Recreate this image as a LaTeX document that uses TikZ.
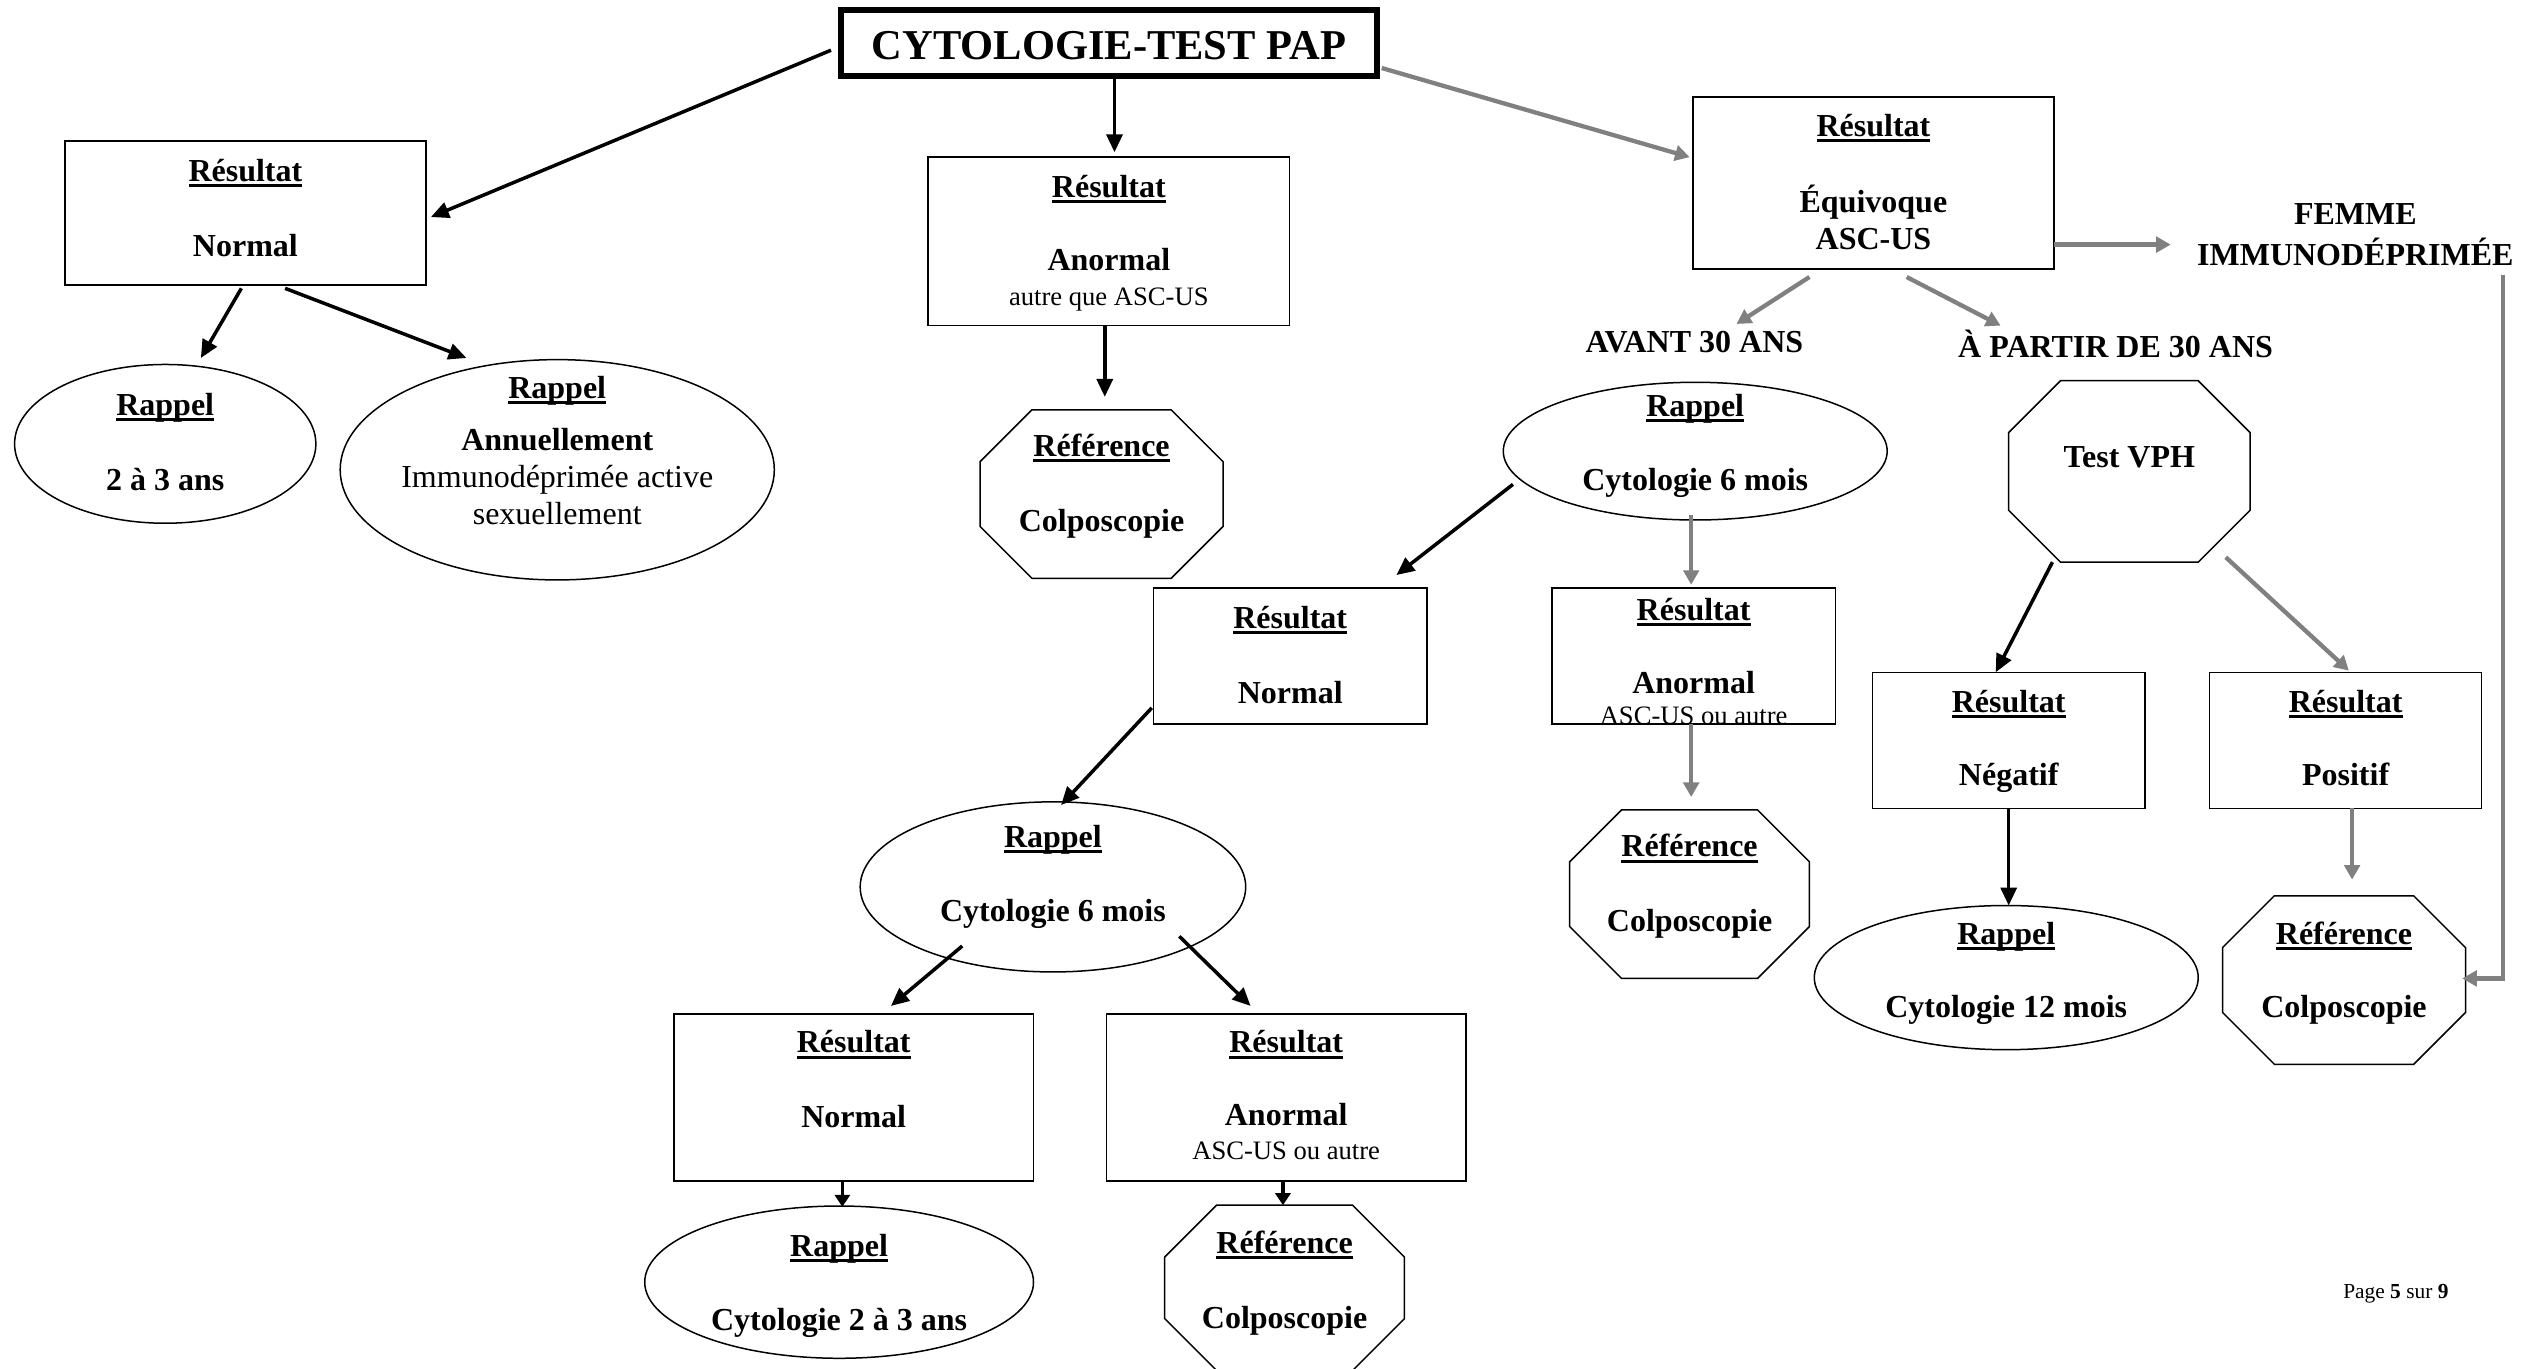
\documentclass[tikz,border=0pt]{standalone}
\usepackage{fontspec}
\setmainfont{Liberation Serif}
\usetikzlibrary{shapes.geometric,arrows.meta,calc}
\definecolor{grayc}{RGB}{128,128,128}
\newlength\unitS \setlength\unitS{1.6199pt}
\newcommand{\myul}[1]{\setbox0\hbox{#1}\rlap{\copy0}\rule[-5.6pt]{\wd0}{3pt}}
\newcommand{\tx}[2]{\makebox[0pt]{\smash{\raisebox{-#1\unitS}{\begin{tabular}[t]{@{}c@{}}#2\end{tabular}}}}}
\newcommand{\sml}{\fontsize{26.6}{30}\selectfont\mdseries}
\newcommand{\octo}[1]{\draw[line width=1.5pt] ($(#1.north west)+(32,0)$) -- ($(#1.north east)+(-32,0)$) -- ($(#1.north east)+(0,32)$) -- ($(#1.south east)+(0,-32)$) -- ($(#1.south east)+(-32,0)$) -- ($(#1.south west)+(32,0)$) -- ($(#1.south west)+(0,-32)$) -- ($(#1.north west)+(0,32)$) -- cycle;}
\tikzset{
  every node/.style={inner sep=0pt, outer sep=0pt},
  txt/.style={font=\fontsize{32}{37.3}\selectfont\bfseries},
  rbox/.style 2 args={draw, line width=1.5pt, rectangle, minimum width=#1*1.6199pt, minimum height=#2*1.6199pt, txt},
  ell/.style 2 args={draw, line width=1.5pt, ellipse, minimum width=#1*1.6199pt, minimum height=#2*1.6199pt, txt},
  oct/.style 2 args={rectangle, minimum width=#1*1.6199pt, minimum height=#2*1.6199pt, txt},
  barr/.style={-{Triangle[length=18pt,width=16pt]}, line width=3.5pt, black},
  barrs/.style={-{Triangle[length=12pt,width=15pt]}, line width=3.5pt, black},
  garr/.style={-{Triangle[length=14.5pt,width=15.5pt]}, line width=4.3pt, grayc},
}
\begin{document}
\begin{tikzpicture}[x=1.6199pt, y=-1.6199pt]
\fill[white] (0,0) rectangle (1568,845);
\useasboundingbox (0,0) rectangle (1568,845);

% nodes
\node (title) [draw, line width=5.7pt, minimum width=331*1.6199pt, minimum height=41*1.6199pt, font=\fontsize{42.5}{48}\selectfont\bfseries] at (684.5,26.5) {\tx{10.2}{CYTOLOGIE-TEST PAP}};

\node (rA) [rbox={223}{89}] at (151.5,131.5) {\tx{-19.5}{\myul{Résultat}\\[37.3pt] Normal}};
\node (e1) [ell={186}{98}] at (102,274) {\tx{-17.5}{\myul{Rappel}\\[37.3pt] 2 à 3 ans}};
\node (e2) [ell={268}{136}] at (344,290) {\tx{-44}{\myul{Rappel}\\[14.5pt] Annuellement\\ \mdseries Immunodéprimée active\\ \mdseries sexuellement}};

\node (rB) [rbox={223}{104}] at (684.5,149) {\tx{-27}{\myul{Résultat}\\[35.6pt] Anormal\\[-2.6pt] \sml autre que ASC-US}};
\node (o1) [oct={150}{104}] at (680,305) {\tx{-23}{\myul{Référence}\\[37.3pt] Colposcopie}};

\node (rC) [rbox={223}{106}] at (1156.5,113) {\tx{-29}{\myul{Résultat}\\[37.3pt] Équivoque\\ ASC-US}};
\node (femme) [align=center, font=\fontsize{32}{40.5}\selectfont\bfseries] at (1454,145) {FEMME\\IMMUNODÉPRIMÉE};
\node (avant) [txt, anchor=base] at (1046,217.5) {AVANT 30 ANS};
\node (apartir) [txt, anchor=base] at (1306,220.5) {À PARTIR DE 30 ANS};

\node (e3) [ell={237}{85}] at (1046.5,278.5) {\tx{-21.5}{\myul{Rappel}\\[37.3pt] Cytologie 6 mois}};
\node (vph) [oct={149}{112}] at (1314.5,291) {\tx{-2.5}{Test VPH}};

\node (rD) [rbox={169}{84}] at (796.5,405) {\tx{-17}{\myul{Résultat}\\[37.3pt] Normal}};
\node (rE) [rbox={175}{84}] at (1045.5,405) {\tx{-22}{\myul{Résultat}\\[35.6pt] Anormal\\[-6.5pt] \sml ASC-US ou autre}};
\node (o2) [oct={148}{104}] at (1043,552) {\tx{-23}{\myul{Référence}\\[37.3pt] Colposcopie}};

\node (rF) [rbox={168}{84}] at (1240,457) {\tx{-17}{\myul{Résultat}\\[35.6pt] Négatif}};
\node (rG) [rbox={168}{84}] at (1448,457) {\tx{-17}{\myul{Résultat}\\[35.6pt] Positif}};
\node (e4) [ell={237}{89}] at (1238.5,603.5) {\tx{-20.5}{\myul{Rappel}\\[35.6pt] Cytologie 12 mois}};
\node (o3) [oct={150}{104}] at (1447,605) {\tx{-22}{\myul{Référence}\\[35.6pt] Colposcopie}};

\node (e5) [ell={238}{105}] at (650,547.5) {\tx{-24.5}{\myul{Rappel}\\[37.3pt] Cytologie 6 mois}};
\node (rH) [rbox={222}{103}] at (527,677.5) {\tx{-27.5}{\myul{Résultat}\\[37.3pt] Normal}};
\node (rI) [rbox={222}{103}] at (794,677.5) {\tx{-27.5}{\myul{Résultat}\\[35.6pt] Anormal\\[-3.3pt] \sml ASC-US ou autre}};
\node (e6) [ell={240}{94}] at (518,791.5) {\tx{-16}{\myul{Rappel}\\[37.3pt] Cytologie 2 à 3 ans}};
\node (o4) [oct={148}{102}] at (793,795) {\tx{-21}{\myul{Référence}\\[37.3pt] Colposcopie}};

\octo{o1}
\octo{vph}
\octo{o2}
\octo{o3}
\octo{o4}

\node (page) [anchor=base, font=\fontsize{21.4}{24}\selectfont] at (1479,801.5) {Page \textbf{5} sur \textbf{9}};

% connectors
\draw[barr] ($(title)+(-171.5,4.5)$) -- ($(rA)+(114.5,2.5)$);
\draw[barr] ($(title)+(3.5,22.5)$) -- ($(rB)+(3.5,-55)$);
\draw[garr] ($(title)+(168.5,15.5)$) -- ($(rC)+(-113.5,-16)$);
\draw[barr] ($(rA)+(-2.5,46.5)$) -- ($(e1)+(22,-53)$);
\draw[barr] ($(rA)+(24.5,46.5)$) -- ($(e2)+(-56,-69)$);
\draw[barr] ($(rB)+(-2.5,52)$) -- ($(o1)+(2,-60)$);
\draw[garr] ($(rC)+(111.5,38)$) -- ($(femme)+(-114,6)$);
\draw[garr] ($(femme)+(91,25)$) |- ($(o3)+(73,-1)$);
\draw[garr] ($(rC)+(-39.5,58)$) -- ($(avant.base)+(26,-17.5)$);
\draw[garr] ($(rC)+(20.5,58)$) -- ($(apartir.base)+(-71,-19.5)$);
\draw[barr] ($(e3)+(-112.5,20.5)$) -- ($(rD)+(65.5,-50)$);
\draw[garr] ($(e3)+(-2.5,39.5)$) -- ($(rE)+(-1.5,-44)$);
\draw[garr] ($(rE)+(-1.5,42)$) -- ($(o2)+(1,-60)$);
\draw[barr] ($(vph)+(-47.5,56)$) -- ($(rF)+(-8,-42)$);
\draw[garr] ($(vph)+(59.5,53)$) -- ($(rG)+(2,-43)$);
\draw[barr] ($(rF)+(0,42)$) -- ($(e4)+(1.5,-44.5)$);
\draw[garr] ($(rG)+(4,42)$) -- ($(o3)+(5,-62)$);
\draw[barr] ($(rD)+(-85.5,32)$) -- ($(e5)+(5,-50.5)$);
\draw[barr] ($(e5)+(-56,36.5)$) -- ($(rH)+(23,-56.5)$);
\draw[barr] ($(e5)+(78,30.5)$) -- ($(rI)+(-22,-56.5)$);
\draw[barrs] ($(rH)+(-7,51.5)$) -- ($(e6)+(2,-46.5)$);
\draw[barrs] ($(rI)+(-2,51.5)$) -- ($(o4)+(-1,-51)$);
\end{tikzpicture}
\end{document}
